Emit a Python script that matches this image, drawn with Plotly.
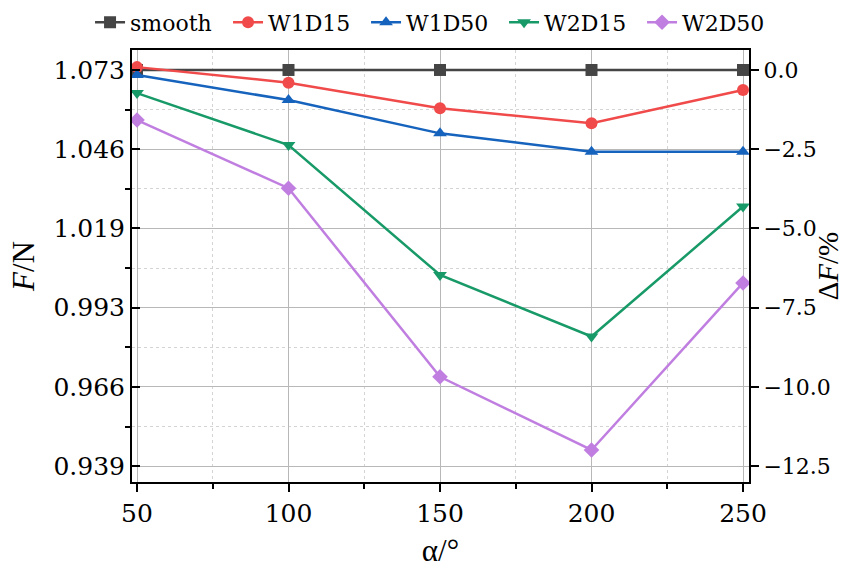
import plotly.graph_objects as go

# ---- data ----
alpha = [50, 100, 150, 200, 250]
series_names = ["smooth", "W1D15", "W1D50", "W2D15", "W2D50"]
dF_smooth = [0.0, 0.0, 0.0, 0.0, 0.0]
dF_W1D15 = [0.09, -0.40, -1.21, -1.68, -0.63]
dF_W1D50 = [-0.16, -0.95, -2.00, -2.58, -2.58]
dF_W2D15 = [-0.73, -2.37, -6.47, -8.41, -4.31]
dF_W2D50 = [-1.58, -3.73, -9.68, -11.99, -6.72]
F_ref = 1.073
left_tick_labels = ["1.073", "1.046", "1.019", "0.993", "0.966", "0.939"]
right_tick_vals = [0.0, -2.5, -5.0, -7.5, -10.0, -12.5]
right_tick_labels = ["0.0", "−2.5", "−5.0", "−7.5", "−10.0", "−12.5"]
x_ticks = [50, 100, 150, 200, 250]

colors = ["#454545", "#f04a4a", "#1663bd", "#189a68", "#c07fe0"]
symbols = ["square", "circle", "triangle-up", "triangle-down", "diamond"]
values = [dF_smooth, dF_W1D15, dF_W1D50, dF_W2D15, dF_W2D50]

TITLE_FONT = "Liberation Serif"
TICK_FONT = "DejaVu Serif"
pct_range = [-13.0, 0.63]
F_range = [F_ref * (1 + r / 100) for r in pct_range]
left_tick_vals = [F_ref * (1 + v / 100) for v in right_tick_vals]

fig = go.Figure()
for name, vals, c, s in zip(series_names, values, colors, symbols):
    fig.add_trace(go.Scatter(
        x=alpha, y=vals, name=name, mode="lines+markers", yaxis="y2",
        line=dict(color=c, width=2.5),
        marker=dict(symbol=s, size=12, color=c),
    ))
# invisible trace anchoring the left (F) axis
fig.add_trace(go.Scatter(x=[alpha[0]], y=[F_ref], yaxis="y", mode="markers",
                         marker=dict(opacity=0), showlegend=False, hoverinfo="skip"))

axis_common = dict(showline=True, linecolor="black", linewidth=2, automargin=False)

fig.update_layout(
    template="none",
    width=844, height=570,
    margin=dict(l=132, r=95, t=50, b=88, autoexpand=False),
    paper_bgcolor="white", plot_bgcolor="white",
    font=dict(family=TITLE_FONT, color="black"),
    showlegend=True,
    legend=dict(orientation="h", x=-0.068, xanchor="left", y=1.015, yanchor="bottom",
                font=dict(family=TICK_FONT, size=22, color="black"),
                itemwidth=30, entrywidth=93, entrywidthmode="pixels",
                tracegroupgap=0, bgcolor="rgba(0,0,0,0)"),
    xaxis=dict(
        **axis_common, range=[48.35, 251.98], tickvals=x_ticks,
        tickfont=dict(family=TICK_FONT, size=25, color="black"),
        ticks="outside", ticklen=8, tickwidth=2, tickcolor="black", mirror=True,
        showgrid=True, gridcolor="#b8b8b8", gridwidth=1,
        minor=dict(dtick=25, tick0=0, ticks="outside", ticklen=5, tickwidth=2,
                   tickcolor="black", showgrid=True, gridcolor="#d4d4d4",
                   griddash="dot", gridwidth=1),
        title=dict(text="α/°", font=dict(family=TITLE_FONT, size=31), standoff=12),
        zeroline=False,
    ),
    yaxis=dict(
        **axis_common, range=F_range, tickvals=left_tick_vals, ticktext=left_tick_labels,
        tickfont=dict(family=TICK_FONT, size=25, color="black"),
        ticks="inside", ticklen=8, tickwidth=2, tickcolor="black", mirror=False,
        showgrid=True, gridcolor="#b8b8b8", gridwidth=1,
        minor=dict(tickvals=[F_ref * (1 + (v - 1.25) / 100) for v in right_tick_vals],
                   ticks="outside", ticklen=5, tickwidth=2, tickcolor="black",
                   showgrid=True, gridcolor="#d4d4d4", griddash="dot", gridwidth=1),
        title=dict(text="<i>F</i>/N", font=dict(family=TITLE_FONT, size=31), standoff=10),
        zeroline=False,
    ),
    yaxis2=dict(
        **axis_common, range=pct_range, tickvals=right_tick_vals, ticktext=right_tick_labels,
        tickfont=dict(family=TICK_FONT, size=22, color="black"),
        overlaying="y", side="right", anchor="x",
        ticks="outside", ticklen=8, tickwidth=2, tickcolor="black",
        showgrid=False, zeroline=False,
        title=dict(text="Δ<i>F</i>/%", font=dict(family=TITLE_FONT, size=29), standoff=13),
    ),
)

fig.write_html("out.html")
